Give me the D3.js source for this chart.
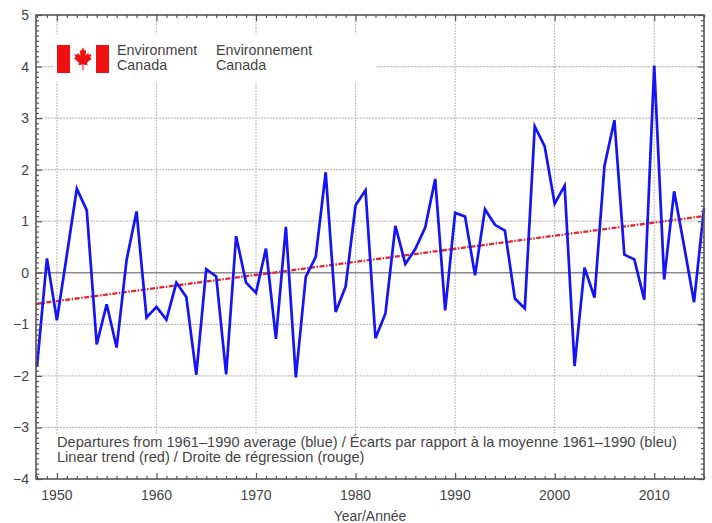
<!DOCTYPE html>
<html>
<head>
<meta charset="utf-8">
<script src="https://cdn.jsdelivr.net/npm/d3@7"></script>
<style>
  body { margin: 0; background: #fff; }
  text { font-family: "Liberation Sans", Arial, sans-serif; }
</style>
</head>
<body>
<script>
// temperature departures, Canada, 1948-2015
var years = [1948, 1949, 1950, 1951, 1952, 1953, 1954, 1955, 1956, 1957,
  1958, 1959, 1960, 1961, 1962, 1963, 1964, 1965, 1966, 1967,
  1968, 1969, 1970, 1971, 1972, 1973, 1974, 1975, 1976, 1977,
  1978, 1979, 1980, 1981, 1982, 1983, 1984, 1985, 1986, 1987,
  1988, 1989, 1990, 1991, 1992, 1993, 1994, 1995, 1996, 1997,
  1998, 1999, 2000, 2001, 2002, 2003, 2004, 2005, 2006, 2007,
  2008, 2009, 2010, 2011, 2012, 2013, 2014, 2015];
var departures = [-1.82, 0.28, -0.92, 0.35, 1.63, 1.21, -1.39, -0.61, -1.45, 0.25,
  1.19, -0.87, -0.66, -0.91, -0.19, -0.47, -1.98, 0.07, -0.07, -1.97,
  0.71, -0.19, -0.39, 0.47, -1.28, 0.89, -2.03, -0.08, 0.31, 1.95,
  -0.76, -0.27, 1.31, 1.60, -1.27, -0.79, 0.91, 0.17, 0.46, 0.88,
  1.82, -0.73, 1.16, 1.09, -0.05, 1.23, 0.93, 0.82, -0.50, -0.69,
  2.84, 2.45, 1.34, 1.69, -1.81, 0.10, -0.48, 2.07, 2.96, 0.35,
  0.26, -0.52, 4.02, -0.13, 1.58, 0.52, -0.57, 1.25];
var trendYears = [1948, 2015];
var trendValues = [-0.6, 1.1];
var xTicks = [1950, 1960, 1970, 1980, 1990, 2000, 2010];
var yTicks = [-4, -3, -2, -1, 0, 1, 2, 3, 4, 5];
var noteLines = [
  "Departures from 1961\u20131990 average (blue) / \u00c9carts par rapport \u00e0 la moyenne 1961\u20131990 (bleu)",
  "Linear trend (red) / Droite de r\u00e9gression (rouge)"
];
var logoEn = ["Environment", "Canada"];
var logoFr = ["Environnement", "Canada"];

var width = 712, height = 523;
var pLeft = 36, pRight = 704, pTop = 15, pBottom = 479;

var svg = d3.select("body").append("svg")
    .attr("width", width)
    .attr("height", height);

svg.append("rect")
    .attr("width", width).attr("height", height)
    .attr("fill", "#fff");

var x = d3.scaleLinear().domain([1947.9, 2015]).range([pLeft, pRight]);
var y = d3.scaleLinear().domain([-4, 5]).range([pBottom, pTop]);

// grid
svg.append("g")
    .selectAll("line")
    .data(xTicks)
    .join("line")
    .attr("x1", d => x(d)).attr("x2", d => x(d))
    .attr("y1", pTop).attr("y2", pBottom)
    .attr("stroke", "#c0c0c0")
    .attr("stroke-width", 1.2)
    .attr("stroke-dasharray", "2,1");

svg.append("g")
    .selectAll("line")
    .data(yTicks.filter(d => d > -4 && d < 5 && d != 0))
    .join("line")
    .attr("x1", pLeft).attr("x2", pRight)
    .attr("y1", d => y(d)).attr("y2", d => y(d))
    .attr("stroke", "#c0c0c0")
    .attr("stroke-width", 1.2)
    .attr("stroke-dasharray", "2,1");

svg.append("line")
    .attr("x1", pLeft).attr("x2", pRight)
    .attr("y1", y(0)).attr("y2", y(0))
    .attr("stroke", "#8a8a8a")
    .attr("stroke-width", 1.5);

// white patches behind logo and note
svg.append("rect")
    .attr("x", 54).attr("y", 34).attr("width", 322).attr("height", 48)
    .attr("fill", "#fff");
svg.append("rect")
    .attr("x", 54).attr("y", 434).attr("width", 638).attr("height", 44)
    .attr("fill", "#fff");

// trend
svg.append("path")
    .datum(trendYears.map((d, i) => [d, trendValues[i]]))
    .attr("d", d3.line().x(d => x(d[0])).y(d => y(d[1])))
    .attr("fill", "none")
    .attr("stroke", "#e2262a")
    .attr("stroke-width", 2.3)
    .attr("stroke-dasharray", "5,1.5,1.5,1.5");

// departures
svg.append("path")
    .datum(years.map((d, i) => [d, departures[i]]))
    .attr("d", d3.line().x(d => x(d[0])).y(d => y(d[1])))
    .attr("fill", "none")
    .attr("stroke", "#1414f5")
    .attr("stroke-width", 2.7)
    .attr("stroke-linejoin", "miter");

// frame + ticks
var axisColor = "#555";
var minorX = years.concat([2015]).filter(d => d % 10 != 0);
var minorY = d3.range(-40, 51).map(d => d / 10).filter(d => Math.abs(d - Math.round(d)) > 0.01);

function tickAxis(axis, ticks, size, tx, ty) {
  svg.append("g")
      .attr("transform", "translate(" + tx + "," + ty + ")")
      .call(axis.tickValues(ticks).tickSize(size).tickFormat(""))
      .call(g => g.select(".domain").remove())
      .call(g => g.selectAll("line").attr("stroke", axisColor).attr("stroke-width", 1.2));
}
tickAxis(d3.axisBottom(x), minorX, -3, 0, pBottom);
tickAxis(d3.axisBottom(x), xTicks, -6, 0, pBottom);
tickAxis(d3.axisTop(x), minorX, -3, 0, pTop);
tickAxis(d3.axisTop(x), xTicks, -6, 0, pTop);
tickAxis(d3.axisLeft(y), minorY, -3, pLeft, 0);
tickAxis(d3.axisLeft(y), yTicks, -6, pLeft, 0);
tickAxis(d3.axisRight(y), minorY, -3, pRight, 0);
tickAxis(d3.axisRight(y), yTicks, -6, pRight, 0);

svg.append("rect")
    .attr("x", pLeft).attr("y", pTop)
    .attr("width", pRight - pLeft).attr("height", pBottom - pTop)
    .attr("fill", "none")
    .attr("stroke", axisColor)
    .attr("stroke-width", 1.6);

// tick labels
svg.append("g")
    .selectAll("text")
    .data(yTicks)
    .join("text")
    .attr("x", 29)
    .attr("y", d => y(d))
    .attr("dy", "0.36em")
    .attr("text-anchor", "end")
    .style("font-size", "14px")
    .attr("fill", "#444")
    .text(d => d3.format("d")(d));

svg.append("g")
    .selectAll("text")
    .data(xTicks)
    .join("text")
    .attr("x", d => x(d))
    .attr("y", 500)
    .attr("text-anchor", "middle")
    .style("font-size", "14px")
    .attr("fill", "#444")
    .text(d => d);

svg.append("text")
    .attr("x", 370)
    .attr("y", 521)
    .attr("text-anchor", "middle")
    .style("font-size", "14px")
    .attr("fill", "#444")
    .text("Year/Ann\u00e9e");

// note
svg.append("g")
    .selectAll("text")
    .data(noteLines)
    .join("text")
    .attr("x", 57)
    .attr("y", (d, i) => 447 + i * 15)
    .style("font-size", "14.6px")
    .attr("fill", "#444")
    .text(d => d);

// logo
var flag = svg.append("g").attr("transform", "translate(57,45)");
flag.append("rect").attr("width", 13).attr("height", 28).attr("fill", "#f01010");
flag.append("rect").attr("x", 39).attr("width", 13).attr("height", 28).attr("fill", "#f01010");
var leaf = [[50,0],[58,14],[66,10],[63,34],[76,22],[79,30],[92,27],[87,42],[94,46],[70,64],[73,74],
  [52,71],[53,95],[47,95],[48,71],[27,74],[30,64],[6,46],[13,42],[8,27],[21,30],[24,22],[37,34],[34,10],[42,14]];
flag.append("path")
    .attr("transform", "translate(16,2.5) scale(0.2,0.24)")
    .attr("d", "M" + leaf.join("L") + "Z")
    .attr("fill", "#f01010");

svg.append("g")
    .selectAll("text")
    .data(logoEn)
    .join("text")
    .attr("x", 117)
    .attr("y", (d, i) => 55 + i * 15)
    .style("font-size", "14.3px")
    .attr("fill", "#444")
    .text(d => d);
svg.append("g")
    .selectAll("text")
    .data(logoFr)
    .join("text")
    .attr("x", 216)
    .attr("y", (d, i) => 55 + i * 15)
    .style("font-size", "14.3px")
    .attr("fill", "#444")
    .text(d => d);
</script>
</body>
</html>
